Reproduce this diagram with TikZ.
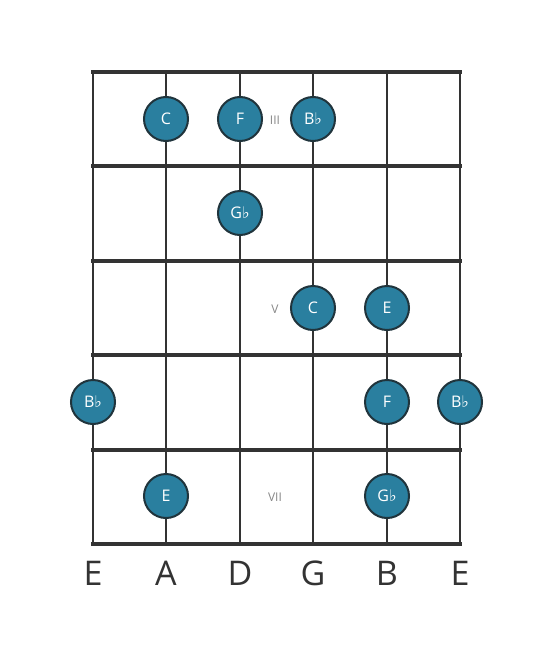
\documentclass[tikz,border=0pt]{standalone}
\usepackage{fontspec}
\setmainfont{Open Sans}
\newfontfamily\symfont{DejaVu Sans}
\definecolor{dotfill}{HTML}{2A7F9F}
\definecolor{lineclr}{HTML}{333333}
\definecolor{dotline}{HTML}{20343C}
\definecolor{numclr}{HTML}{888888}
\begin{document}
\begin{tikzpicture}[x=1pt,y=-1pt,
  fretline/.style={draw=lineclr,line width=4.5pt},
  stringline/.style={draw=lineclr,line width=2.6pt},
  notedot/.style={circle,fill=dotfill,draw=dotline,line width=2pt,minimum size=44pt,inner sep=0pt,text=white,font=\fontsize{16}{16}\selectfont},
  strlabel/.style={text=lineclr,font=\fontsize{34}{34}\selectfont,inner sep=0pt},
  fretnum/.style={text=numclr,font=\fontsize{12}{12}\selectfont,inner sep=0pt}]
\useasboundingbox (0,0) rectangle (553,656);
\fill[white] (0,0) rectangle (553,656);
% strings
\foreach \i/\x in {1/93,2/166,3/240,4/313,5/387,6/460}{
  \coordinate (st\i) at (\x,72);
  \coordinate (sb\i) at (\x,544);
  \draw[stringline] (st\i) -- (sb\i);
}
% frets
\foreach \j/\y in {0/72,1/166,2/261,3/355,4/450,5/544}{
  \coordinate (fl\j) at (93,\y);
  \coordinate (fr\j) at (460,\y);
  \draw[fretline,line cap=rect] (fl\j) -- (fr\j);
}
% fret numbers
\node[fretnum] (n3) at (275,120) {III};
\node[fretnum] (n5) at (275,309) {V};
\node[fretnum] (n7) at (275,497) {VII};
% dots
\newcommand{\flt}{{\symfont\char"266D}}
\node[notedot] (d1) at (166,119) {C};
\node[notedot] (d2) at (240,119) {F};
\node[notedot] (d3) at (313,119) {B\flt};
\node[notedot] (d4) at (240,213) {G\flt};
\node[notedot] (d5) at (313,308) {C};
\node[notedot] (d6) at (387,308) {E};
\node[notedot] (d7) at (93,402) {B\flt};
\node[notedot] (d8) at (387,402) {F};
\node[notedot] (d9) at (460,402) {B\flt};
\node[notedot] (d10) at (166,496) {E};
\node[notedot] (d11) at (387,496) {G\flt};
% string labels
\node[strlabel] (l1) at (93,573) {E};
\node[strlabel] (l2) at (166,573) {A};
\node[strlabel] (l3) at (240,573) {D};
\node[strlabel] (l4) at (313,573) {G};
\node[strlabel] (l5) at (387,573) {B};
\node[strlabel] (l6) at (460,573) {E};
\end{tikzpicture}
\end{document}
